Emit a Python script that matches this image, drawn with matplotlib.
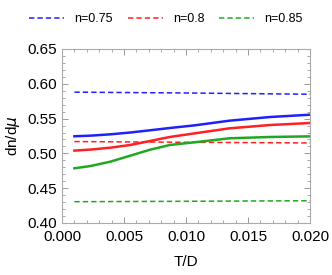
import matplotlib

matplotlib.use("Agg")
import matplotlib.pyplot as plt
from matplotlib.ticker import MultipleLocator

plt.rcParams["font.family"] = ["Liberation Sans", "DejaVu Sans"]

# T/D sample points
t_solid = [0.001, 0.0023, 0.0039, 0.0055, 0.0071, 0.0087, 0.0107, 0.0135, 0.0168, 0.020]
blue_solid = [0.5246, 0.5255, 0.5274, 0.5300, 0.5332, 0.5365, 0.5403, 0.5470, 0.5523, 0.5556]
red_solid = [0.5040, 0.5055, 0.5082, 0.5121, 0.5178, 0.5236, 0.5288, 0.5360, 0.5408, 0.5437]
green_solid = [0.4786, 0.4819, 0.4881, 0.4967, 0.5053, 0.5121, 0.5160, 0.5217, 0.5236, 0.5245]

t_dashed = [0.001, 0.010, 0.020]
blue_dashed = [0.588, 0.5868, 0.585]
red_dashed = [0.517, 0.516, 0.515]
green_dashed = [0.4306, 0.4312, 0.432]

labels = ["n=0.75", "n=0.8", "n=0.85"]
colors = ["#2020ff", "#ff2020", "#20a820"]

fig = plt.figure(figsize=(3.32, 2.75), dpi=100)
ax = fig.add_axes([62 / 332, 1 - 223 / 275, 248 / 332, 174 / 275])

handles = []
for ys, yd, c, lab in zip(
    [blue_solid, red_solid, green_solid],
    [blue_dashed, red_dashed, green_dashed],
    colors,
    labels,
):
    ax.plot(t_solid, ys, color=c, linewidth=1.8)
    (h,) = ax.plot(t_dashed, yd, color=c, linewidth=1.1, dashes=(3.5, 2))
    handles.append(h)

ax.set_xlim(0, 0.02)
ax.set_ylim(0.40, 0.65)
ax.xaxis.set_major_locator(MultipleLocator(0.005))
ax.xaxis.set_minor_locator(MultipleLocator(0.001))
ax.yaxis.set_major_locator(MultipleLocator(0.05))
ax.yaxis.set_minor_locator(MultipleLocator(0.01))
ax.xaxis.set_major_formatter(lambda v, p: f"{v:.3f}")
ax.yaxis.set_major_formatter(lambda v, p: f"{v:.2f}")
ax.tick_params(which="both", direction="in", top=True, right=True, color="#999999", labelsize=11)
ax.tick_params(which="major", length=4, width=0.7)
ax.tick_params(which="minor", length=2, width=0.6)
ax.tick_params(axis="x", which="major", pad=5)
for s in ax.spines.values():
    s.set_color("#aaaaaa")
    s.set_linewidth(0.8)

ax.set_xlabel("T/D", fontsize=11, labelpad=8)
ax.set_ylabel(r"dn/d$\mu$", fontsize=11, labelpad=4)

fig.legend(
    handles,
    labels,
    loc="center",
    bbox_to_anchor=(0.5, 1 - 19 / 275),
    ncol=3,
    frameon=False,
    fontsize=9,
    handlelength=2.8,
    columnspacing=1.2,
    handletextpad=0.8,
)

fig.savefig("out.png", dpi=100)
